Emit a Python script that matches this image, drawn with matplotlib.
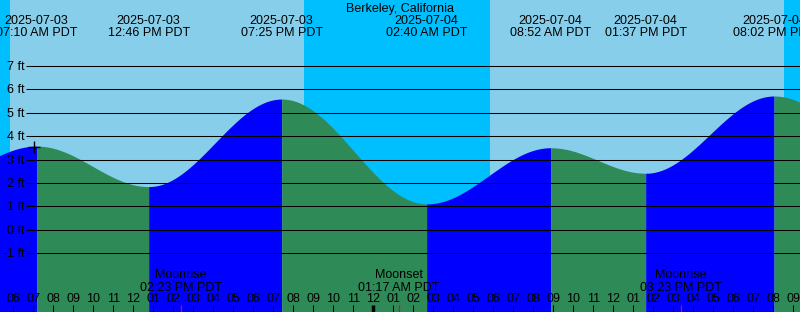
import numpy as np
import matplotlib
matplotlib.use("Agg")
import matplotlib.pyplot as plt
from matplotlib.transforms import blended_transform_factory

plt.rcParams['font.family'] = ['Liberation Sans', 'DejaVu Sans']

# ---------------- data ----------------
title = "Berkeley, California"
# tide extremes (hours since 2025-07-03 00:00 PDT), heights in ft
# first and last entries are the off-chart extremes that shape the edges (estimated)
tide_hours = [1.5, 7 + 10/60, 12 + 46/60, 19 + 25/60, 24 + 2 + 40/60, 24 + 8 + 52/60,
              24 + 13 + 37/60, 24 + 20 + 2/60, 24 + 28.0]
tide_heights = [1.9, 3.58, 1.85, 5.59, 1.11, 3.51, 2.42, 5.72, 1.5]
tide_dates = ["", "2025-07-03", "2025-07-03", "2025-07-03", "2025-07-04", "2025-07-04",
              "2025-07-04", "2025-07-04", ""]
tide_times = ["", "07:10 AM PDT", "12:46 PM PDT", "07:25 PM PDT", "02:40 AM PDT",
              "08:52 AM PDT", "01:37 PM PDT", "08:02 PM PDT", ""]

sunrise_hours = [5 + 50/60, 24 + 5 + 50/60]
sunset_hours = [20 + 32/60, 24 + 20 + 32/60]

moon_hours = [14 + 23/60, 24 + 1 + 17/60, 24 + 15 + 23/60]
moon_events = ["Moonrise", "Moonset", "Moonrise"]
moon_times = ["02:23 PM PDT", "01:17 AM PDT", "03:23 PM PDT"]

now_hour = 7.05
now_height = 3.53

ft_ticks = [-1, 0, 1, 2, 3, 4, 5, 6, 7]
hour_ticks = list(range(6, 46))

# ---------------- layout ----------------
W, H = 800, 312
PX_PER_HOUR = 20.0
X0 = 6 - 13.33 / PX_PER_HOUR        # hour at left edge
PX_PER_FT = 23.41
Y0PX = 229.9                          # pixel row of 0 ft

def px2t(x):
    return X0 + x / PX_PER_HOUR

def fy(ypx):  # pixel row -> axes fraction
    return 1 - ypx / H

xmin, xmax = X0, px2t(W)
ymin, ymax = (Y0PX - H) / PX_PER_FT, Y0PX / PX_PER_FT

SKY_DAY = "#87CEEB"
SKY_NIGHT = "#00BFFF"
RISE = "#0000FF"
FALL = "#2E8B57"
FS = 9

fig = plt.figure(figsize=(W / 100, H / 100), dpi=100)
ax = fig.add_axes([0, 0, 1, 1])
ax.set_xlim(xmin, xmax)
ax.set_ylim(ymin, ymax)
ax.axis("off")

# sky background
ax.axvspan(xmin, xmax, color=SKY_NIGHT, lw=0, zorder=0)
for sr, ss in zip(sunrise_hours, sunset_hours):
    ax.axvspan(sr, ss, color=SKY_DAY, lw=0, zorder=0.5)

# tide curve: cosine shape between successive extremes
for i in range(len(tide_hours) - 1):
    t0, t1 = tide_hours[i], tide_hours[i + 1]
    h0, h1 = tide_heights[i], tide_heights[i + 1]
    tt = np.linspace(t0, t1, 200)
    hh = h0 + (h1 - h0) * (1 - np.cos(np.pi * (tt - t0) / (t1 - t0))) / 2
    col = RISE if h1 > h0 else FALL
    ax.fill_between(tt, ymin, hh, color=col, lw=0, zorder=1)

# horizontal grid and labels
trans = blended_transform_factory(ax.transData, ax.transAxes)
for f in ft_ticks:
    ax.plot([px2t(26), xmax], [f, f], color="black", lw=0.75, zorder=2,
            solid_capstyle="butt")
    ax.text(px2t(24.5), f - 4 / PX_PER_FT, f"{f} ft", ha="right", va="baseline",
            fontsize=FS, color="black", zorder=3)

# current marker
ax.plot([now_hour], [now_height], marker="+", ms=8, mew=1, color="black", zorder=4)

# title
ax.text(0.5, fy(12), title, transform=ax.transAxes, ha="center", va="baseline",
        fontsize=FS, zorder=5)

# tide extreme labels
for t, d, tm in zip(tide_hours, tide_dates, tide_times):
    if not d:
        continue
    ax.text(t, fy(24), d, transform=trans, ha="center", va="baseline", fontsize=FS, zorder=5)
    ax.text(t, fy(36), tm, transform=trans, ha="center", va="baseline", fontsize=FS, zorder=5)

# hour ticks
for h in hour_ticks:
    lab = f"{(h % 12) if h % 12 else 12:02d}"
    lw = 2.5 if h % 24 == 0 else 0.75
    ax.plot([h, h], [fy(305), fy(312)], transform=trans, color="black", lw=lw,
            zorder=5, solid_capstyle="butt", clip_on=False)
    ax.text(h, fy(301.7), lab, transform=trans, ha="center", va="baseline",
            fontsize=FS, zorder=5)

# moon events
for t, ev, tm in zip(moon_hours, moon_events, moon_times):
    ax.plot([t, t], [fy(305), fy(312)], transform=trans, color="red", lw=0.9,
            zorder=6, solid_capstyle="butt")
    ax.text(t, fy(278.3), ev, transform=trans, ha="center", va="baseline", fontsize=FS, zorder=5)
    ax.text(t, fy(290.7), tm, transform=trans, ha="center", va="baseline", fontsize=FS, zorder=5)

fig.savefig("out.png", dpi=100)
